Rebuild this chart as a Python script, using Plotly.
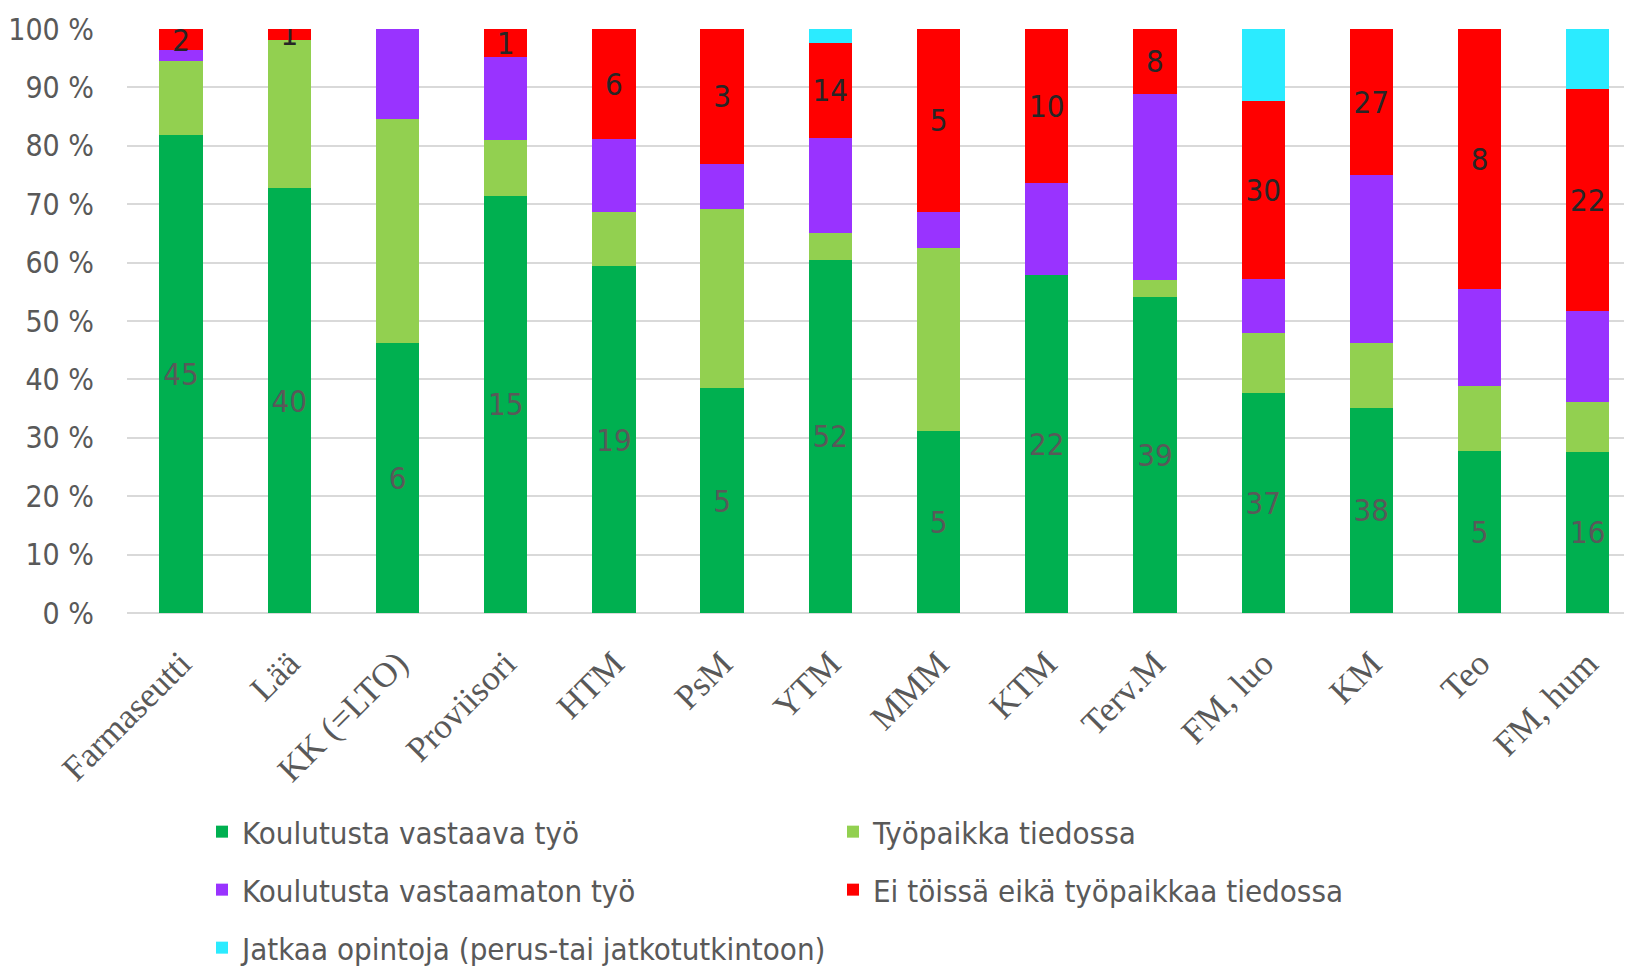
import plotly.graph_objects as go

categories = ["Farmaseutti", "Lää", "KK (=LTO)", "Proviisori", "HTM", "PsM", "YTM",
              "MMM", "KTM", "Terv.M", "FM, luo", "KM", "Teo", "FM, hum"]
koulutusta_vastaava = [45, 40, 6, 15, 19, 5, 52, 5, 22, 39, 37, 38, 5, 16]
tyopaikka_tiedossa = [7, 14, 5, 2, 3, 4, 4, 5, 0, 2, 10, 12, 2, 5]
vastaamaton_tyo = [1, 0, 2, 3, 4, 1, 14, 1, 6, 23, 9, 31, 3, 9]
ei_toissa = [2, 1, 0, 1, 6, 3, 14, 5, 10, 8, 30, 27, 8, 22]
jatkaa_opintoja = [0, 0, 0, 0, 0, 0, 2, 0, 0, 0, 12, 0, 0, 6]

series_names = ["Koulutusta vastaava työ", "Työpaikka tiedossa", "Koulutusta vastaamaton työ",
                "Ei töissä eikä työpaikkaa tiedossa", "Jatkaa opintoja (perus-tai jatkotutkintoon)"]
colors = ["#00B050", "#92D050", "#9933FF", "#FF0000", "#2BEBFF"]
y_ticks = list(range(0, 101, 10))

NARROW = "Liberation Sans Narrow, Arial Narrow, DejaVu Sans Condensed, sans-serif"
SERIF = "Liberation Serif, DejaVu Serif, serif"

fig = go.Figure()
data = [koulutusta_vastaava, tyopaikka_tiedossa, vastaamaton_tyo, ei_toissa, jatkaa_opintoja]
legends = ["legend", "legend2", "legend3", "legend4", "legend5"]
label_colors = {0: "#595959", 3: "#262626"}
for i, (vals, name, col) in enumerate(zip(data, series_names, colors)):
    kw = {}
    if i in label_colors:
        kw = dict(text=[str(v) if v else "" for v in vals], textposition="inside",
                  insidetextanchor="middle", textangle=0, constraintext="none",
                  textfont=dict(family=NARROW, size=31, color=label_colors[i]))
    fig.add_trace(go.Bar(x=categories, y=vals, name=name, marker=dict(color=col, line=dict(width=0)),
                         legend=legends[i], **kw))

# the page body adds an 8px margin, so the figure is 8px smaller than the window
W, H = 1624, 958
L, R, T, B = 118.5, 0, 21, 353
pw = W - L - R
cat_px = 108.24
xmax = -0.5 + pw / cat_px

leg_font = dict(family=NARROW, size=31, color="#595959")
rows = [824, 882, 940]
cols = [194, 825]
pos = [(cols[0], rows[0]), (cols[1], rows[0]), (cols[0], rows[1]), (cols[1], rows[1]), (cols[0], rows[2])]
leg_layout = {}
for lg, (lx, ly) in zip(legends, pos):
    leg_layout[lg] = dict(x=lx / W, y=1 - ly / H, xref="container", yref="container",
                          xanchor="left", yanchor="middle",
                          font=leg_font, bgcolor="rgba(0,0,0,0)", borderwidth=0)

fig.update_layout(
    width=W, height=H,
    margin=dict(l=L, r=R, t=T, b=B, pad=0, autoexpand=False),
    barmode="stack", barnorm="percent", bargap=0.6,
    plot_bgcolor="white", paper_bgcolor="white",
    showlegend=True,
    **leg_layout,
    xaxis=dict(range=[-0.5, xmax], tickangle=-45, showgrid=False, showline=False,
               automargin=False,
               tickfont=dict(family=SERIF, size=35, color="#595959"),
               ticklabelstandoff=22, fixedrange=True),
    yaxis=dict(range=[0, 100], tickvals=y_ticks, ticktext=[f"{v} %" for v in y_ticks],
               automargin=False,
               showgrid=True, gridcolor="#D9D9D9", gridwidth=1.5,
               zeroline=True, zerolinecolor="#D9D9D9", zerolinewidth=2, showline=False,
               tickfont=dict(family=NARROW, size=30, color="#595959"),
               ticklabelstandoff=32, fixedrange=True),
)

fig.write_html("out.html")
